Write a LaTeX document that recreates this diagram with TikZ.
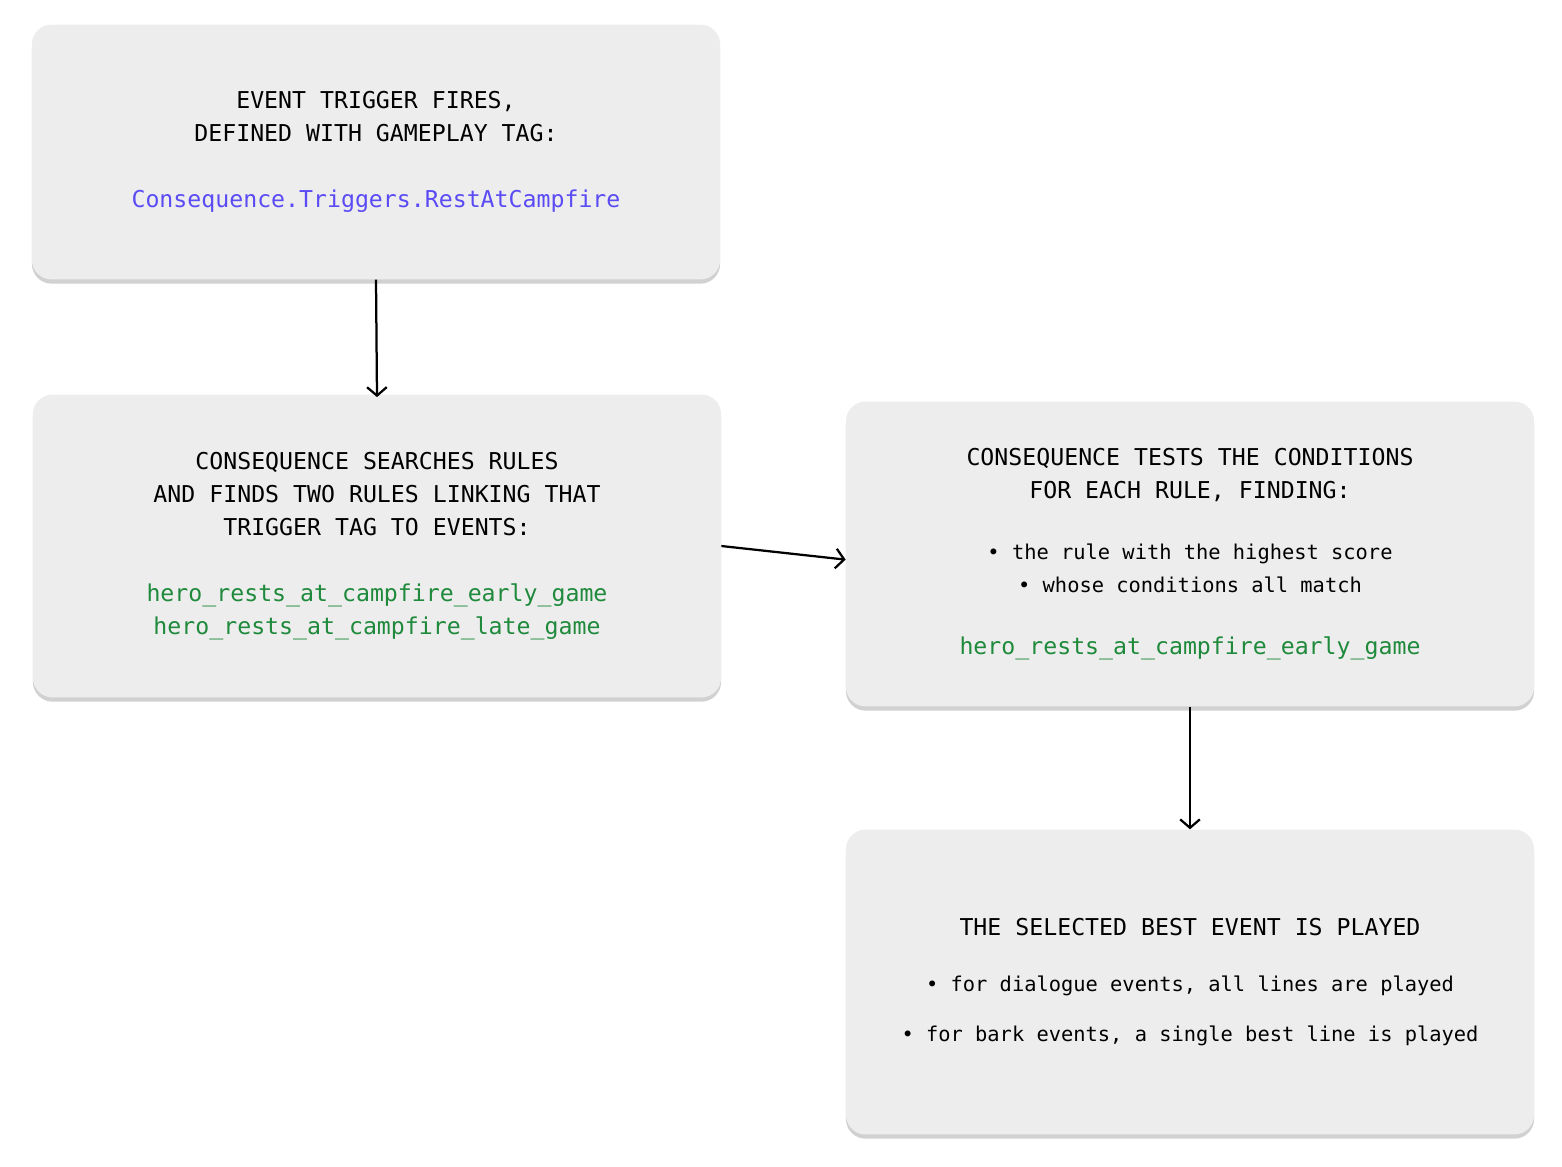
\documentclass[tikz,border=0pt]{standalone}
\usepackage{fontspec}
\setmonofont{DejaVu Sans Mono}
\usepackage{xcolor}
\usetikzlibrary{arrows.meta, positioning, shadows}
\definecolor{boxgray}{HTML}{EDEDED}
\definecolor{tagblue}{HTML}{5A4BF5}
\definecolor{rulegreen}{HTML}{1F8A3C}
\newcommand{\headsize}{\fontsize{16.5pt}{23.5pt}\selectfont}
\newcommand{\smallsize}{\fontsize{14.5pt}{23.5pt}\selectfont}

\begin{document}
\begin{tikzpicture}[
        x=0.025cm, y=-0.025cm,
        stepbox/.style={rectangle, rounded corners=14pt, fill=boxgray, align=center, font=\ttfamily\headsize,
            minimum width=17.2cm, inner sep=0pt,
            drop shadow={shadow xshift=0pt, shadow yshift=-3pt, fill=black!30, opacity=0.6}},
        arrow/.style={-{Straight Barb[length=6pt, width=14pt]}, line width=1.6pt, draw=black}
    ]
        \path[use as bounding box] (0,0) rectangle (1562,1166);

        \node[stepbox, minimum height=6.37cm] (trigger) at (376,152) {EVENT TRIGGER FIRES,\\DEFINED WITH GAMEPLAY TAG:\\[23pt]
            \textcolor{tagblue}{Consequence.Triggers.RestAtCampfire}};
        \node[stepbox, minimum height=7.57cm] (search) at (377,546) {CONSEQUENCE SEARCHES RULES\\AND FINDS TWO RULES LINKING THAT\\TRIGGER TAG TO EVENTS:\\[23pt]
            \textcolor{rulegreen}{hero\_rests\_at\_campfire\_early\_game}\\\textcolor{rulegreen}{hero\_rests\_at\_campfire\_late\_game}};
        \node[stepbox, minimum height=7.62cm] (test) at (1190,554) {CONSEQUENCE TESTS THE CONDITIONS\\FOR EACH RULE, FINDING:\\[20pt]
            {\smallsize • the rule with the highest score}\\{\smallsize • whose conditions all match}\\[20pt]
            \textcolor{rulegreen}{hero\_rests\_at\_campfire\_early\_game}};
        \node[stepbox, minimum height=7.62cm] (play) at (1190,982) {THE SELECTED BEST EVENT IS PLAYED\\[16pt]
            {\smallsize • for dialogue events, all lines are played}\\[12pt]{\smallsize • for bark events, a single best line is played}};

        \draw[arrow] (trigger.south) -- ([yshift=-2pt]search.north);
        \draw[arrow] (search.east) -- ([xshift=-0pt,yshift=-4pt]test.west);
        \draw[arrow] (test.south) -- (play.north);
    \end{tikzpicture}
\end{document}
